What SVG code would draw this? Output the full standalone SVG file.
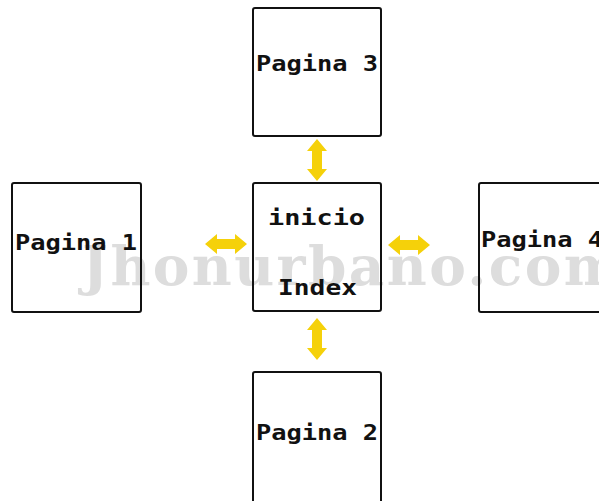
<svg xmlns="http://www.w3.org/2000/svg" width="599" height="501" viewBox="0 0 599 501">
  <style>
    .box { fill: none; stroke: #111111; stroke-width: 2; }
    .lbl { font-family: "DejaVu Sans Mono", "Liberation Mono", monospace; font-weight: bold; font-size: 22px; fill: #111111; }
    .wm { font-family: "DejaVu Serif", "Liberation Serif", serif; font-weight: bold; font-size: 55px; fill: #dddddd; }
    .arr { fill: #f5d10a; }
  </style>
  <defs>
    <!-- double-headed arrow, horizontal, centred on origin -->
    <path id="dbl" d="M -21 0 L -9 -10 L -9 -5 L 9 -5 L 9 -10 L 21 0 L 9 10 L 9 5 L -9 5 L -9 10 Z"/>
  </defs>
  <rect width="599" height="501" fill="#ffffff"/>

  <!-- watermark, under the boxes so outlines and labels sit on top -->
  <text class="wm" x="82" y="285" textLength="540" lengthAdjust="spacing">Jhonurbano.com</text>

  <g id="pagina3">
    <rect class="box" x="253" y="8" width="128" height="128" rx="2"/>
    <text class="lbl" x="256" y="71" textLength="122" lengthAdjust="spacingAndGlyphs">Pagina 3</text>
  </g>
  <g id="pagina1">
    <rect class="box" x="12" y="183" width="129" height="129" rx="2"/>
    <text class="lbl" x="15" y="250" textLength="122" lengthAdjust="spacingAndGlyphs">Pagina 1</text>
  </g>
  <g id="index">
    <rect class="box" x="253" y="183" width="128" height="128" rx="2"/>
    <text class="lbl" x="268" y="225" textLength="97" lengthAdjust="spacingAndGlyphs">inicio</text>
    <text class="lbl" x="278" y="295" textLength="79" lengthAdjust="spacingAndGlyphs">Index</text>
  </g>
  <g id="pagina4">
    <rect class="box" x="479" y="183" width="140" height="129" rx="2"/>
    <text class="lbl" x="481" y="247" textLength="122" lengthAdjust="spacingAndGlyphs">Pagina 4</text>
  </g>
  <g id="pagina2">
    <rect class="box" x="253" y="372" width="128" height="140" rx="2"/>
    <text class="lbl" x="256" y="440" textLength="122" lengthAdjust="spacingAndGlyphs">Pagina 2</text>
  </g>

  <g id="connectors" class="arr">
    <use href="#dbl" transform="translate(317,160) rotate(90)"/>
    <use href="#dbl" transform="translate(317,339) rotate(90)"/>
    <use href="#dbl" transform="translate(226,244)"/>
    <use href="#dbl" transform="translate(409,245)"/>
  </g>
</svg>
